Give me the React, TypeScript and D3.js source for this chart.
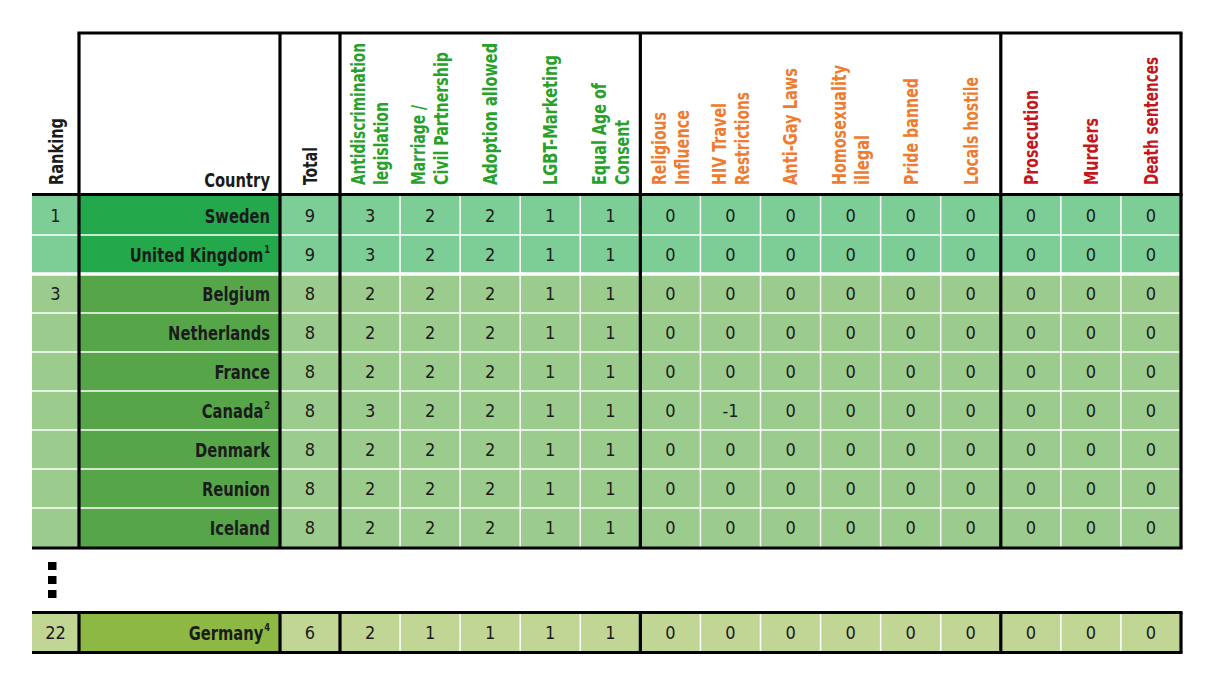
import React from 'react';
import * as d3 from 'd3';

// ---- data ----
const COUNTRIES = ['Sweden', 'United Kingdom', 'Belgium', 'Netherlands', 'France', 'Canada', 'Denmark', 'Reunion', 'Iceland'];
const RANKS = ['1', '', '3', '', '', '', '', '', ''];
const FOOTNOTES = ['', '1', '', '', '', '2', '', '', ''];
const TIERS = [0, 0, 1, 1, 1, 1, 1, 1, 1];
const TOTALS = [9, 9, 8, 8, 8, 8, 8, 8, 8];

const ANTIDISCRIMINATION = [3, 3, 2, 2, 2, 3, 2, 2, 2];
const MARRIAGE = [2, 2, 2, 2, 2, 2, 2, 2, 2];
const ADOPTION = [2, 2, 2, 2, 2, 2, 2, 2, 2];
const LGBT_MARKETING = [1, 1, 1, 1, 1, 1, 1, 1, 1];
const EQUAL_AGE = [1, 1, 1, 1, 1, 1, 1, 1, 1];
const RELIGIOUS = [0, 0, 0, 0, 0, 0, 0, 0, 0];
const HIV_TRAVEL = [0, 0, 0, 0, 0, -1, 0, 0, 0];
const ANTI_GAY_LAWS = [0, 0, 0, 0, 0, 0, 0, 0, 0];
const HOMO_ILLEGAL = [0, 0, 0, 0, 0, 0, 0, 0, 0];
const PRIDE_BANNED = [0, 0, 0, 0, 0, 0, 0, 0, 0];
const LOCALS_HOSTILE = [0, 0, 0, 0, 0, 0, 0, 0, 0];
const PROSECUTION = [0, 0, 0, 0, 0, 0, 0, 0, 0];
const MURDERS = [0, 0, 0, 0, 0, 0, 0, 0, 0];
const DEATH_SENTENCES = [0, 0, 0, 0, 0, 0, 0, 0, 0];

const GERMANY = { country: 'Germany', rank: '22', footnote: '4', total: 6, tier: 2 };
const GERMANY_VALUES = [2, 1, 1, 1, 1, 0, 0, 0, 0, 0, 0, 0, 0, 0];

const COLUMNS = [
  { key: 'anti', lines: ['Antidiscrimination', 'legislation'], group: 'pos', values: ANTIDISCRIMINATION },
  { key: 'marr', lines: ['Marriage /', 'Civil Partnership'], group: 'pos', values: MARRIAGE },
  { key: 'adop', lines: ['Adoption allowed'], group: 'pos', values: ADOPTION },
  { key: 'lgbt', lines: ['LGBT-Marketing'], group: 'pos', values: LGBT_MARKETING },
  { key: 'age', lines: ['Equal Age of', 'Consent'], group: 'pos', values: EQUAL_AGE },
  { key: 'rel', lines: ['Religious', 'Influence'], group: 'mid', values: RELIGIOUS },
  { key: 'hiv', lines: ['HIV Travel', 'Restrictions'], group: 'mid', values: HIV_TRAVEL },
  { key: 'agl', lines: ['Anti-Gay Laws'], group: 'mid', values: ANTI_GAY_LAWS },
  { key: 'homo', lines: ['Homosexuality', 'illegal'], group: 'mid', values: HOMO_ILLEGAL },
  { key: 'pride', lines: ['Pride banned'], group: 'mid', values: PRIDE_BANNED },
  { key: 'loc', lines: ['Locals hostile'], group: 'mid', values: LOCALS_HOSTILE },
  { key: 'pros', lines: ['Prosecution'], group: 'neg', values: PROSECUTION },
  { key: 'murd', lines: ['Murders'], group: 'neg', values: MURDERS },
  { key: 'death', lines: ['Death sentences'], group: 'neg', values: DEATH_SENTENCES },
];

// ---- styling ----
const FONT = "'Liberation Sans Narrow', 'DejaVu Sans Condensed', 'Roboto', sans-serif";
const GROUP_COLOR: Record<string, string> = { pos: '#27a12a', mid: '#f07b2f', neg: '#c4161c' };
const LIGHT = ['#7dce96', '#9ccb8e', '#c1d694'];
const DARK = ['#23a84b', '#56a548', '#8db843'];
const INK = '#1b1b1b';
const SQUEEZE = 0.84; // horizontal condensing for the bold country labels

// rendered length of each rotated header line
const HEADER_FIT: Record<string, number> = {
  Ranking: 67, Total: 38,
  Antidiscrimination: 142, legislation: 83, 'Marriage /': 80, 'Civil Partnership': 133,
  'Adoption allowed': 142, 'LGBT-Marketing': 130, 'Equal Age of': 102, Consent: 65,
  Religious: 73, Influence: 75, 'HIV Travel': 82, Restrictions: 93, 'Anti-Gay Laws': 117,
  Homosexuality: 120, illegal: 50, 'Pride banned': 107, 'Locals hostile': 108,
  Prosecution: 95, Murders: 67, 'Death sentences': 128,
};

const W = 1214;
const H = 682;
const LEFT = 32;
const RANK_R = 79;
const COUNTRY_R = 280;
const TOTAL_R = 340;
const RIGHT = 1181;
const TOP = 33;
const HEAD_BOTTOM = 194.5;
const HEAD_BASE = 185;
const NAME_X = 270;

export default function App() {
  const x = d3.scaleBand<string>().domain(COLUMNS.map(c => c.key)).range([TOTAL_R, RIGHT]);
  const y = d3.scaleBand<string>().domain(COUNTRIES).range([196, 547]);
  const rowH = y.bandwidth();
  const tableBottom = (y(COUNTRIES[COUNTRIES.length - 1]) as number) + rowH + 1;
  const gTop = 612.5;
  const gY = gTop + 1;

  const headLine = (text: string, cx: number, color: string, key: string) => (
    <text
      key={key}
      transform={`translate(${cx},${HEAD_BASE}) rotate(-90)`}
      dy="0.36em"
      fill={color}
      fontWeight="bold"
      fontSize={19}
      textLength={HEADER_FIT[text]}
      lengthAdjust="spacingAndGlyphs"
    >
      {text}
    </text>
  );

  const groupEdges = [RANK_R, COUNTRY_R, TOTAL_R];
  COLUMNS.forEach((c, i) => {
    const next = COLUMNS[i + 1];
    if (next && next.group !== c.group) groupEdges.push(x(next.key) as number);
  });
  groupEdges.push(RIGHT);

  const innerEdges: number[] = [];
  COLUMNS.forEach((c, i) => {
    const next = COLUMNS[i + 1];
    if (next && next.group === c.group) innerEdges.push(x(next.key) as number);
  });

  const renderRow = (
    k: string, top: number, h: number, tier: number, rank: string, country: string,
    foot: string, total: number, values: number[]
  ) => {
    const cy = top + h / 2;
    return (
      <g key={k}>
        <rect x={LEFT} y={top} width={RIGHT - LEFT} height={h} fill={LIGHT[tier]} />
        <rect x={RANK_R} y={top} width={COUNTRY_R - RANK_R} height={h} fill={DARK[tier]} />
        <text x={(LEFT + RANK_R) / 2} y={cy} dy="0.36em" textAnchor="middle" fontSize={18} fill={INK}>{rank}</text>
        <g transform={`translate(${NAME_X},${cy}) scale(${SQUEEZE},1)`}>
          <text x={0} y={0} dy="0.36em" textAnchor="end" fontSize={19.5} fontWeight="bold" fill={INK}>
            {country}
            {foot && <tspan fontSize={11} dy="-0.8em" dx="1">{foot}</tspan>}
          </text>
        </g>
        <text x={(COUNTRY_R + TOTAL_R) / 2} y={cy} dy="0.36em" textAnchor="middle" fontSize={18} fill={INK}>{total}</text>
        {COLUMNS.map((c, j) => (
          <text key={c.key} x={(x(c.key) as number) + x.bandwidth() / 2} y={cy} dy="0.36em"
            textAnchor="middle" fontSize={18} fill={INK}>{values[j]}</text>
        ))}
      </g>
    );
  };

  return (
    <svg width={W} height={H} style={{ position: 'absolute', left: 0, top: 0, background: '#fff' }}
      fontFamily={FONT}>
      {/* header */}
      {headLine('Ranking', (LEFT + RANK_R) / 2 + 1, INK, 'rank')}
      <g transform={`translate(${NAME_X},187) scale(${SQUEEZE},1)`}>
        <text x={0} y={0} textAnchor="end" fontWeight="bold" fontSize={19.5} fill={INK}>Country</text>
      </g>
      {headLine('Total', (COUNTRY_R + TOTAL_R) / 2, INK, 'total')}
      {COLUMNS.map(c => {
        const cx = (x(c.key) as number) + x.bandwidth() / 2;
        const col = GROUP_COLOR[c.group];
        if (c.lines.length === 1) return headLine(c.lines[0], cx, col, c.key);
        return (
          <g key={c.key}>
            {headLine(c.lines[0], cx - 11.5, col, c.key + '0')}
            {headLine(c.lines[1], cx + 11.5, col, c.key + '1')}
          </g>
        );
      })}

      {/* main rows */}
      {COUNTRIES.map((name, i) =>
        renderRow(name, y(name) as number, rowH, TIERS[i], RANKS[i], name, FOOTNOTES[i], TOTALS[i],
          COLUMNS.map(c => c.values[i]))
      )}
      {/* Germany row */}
      {renderRow('ger', gY, 38, GERMANY.tier, GERMANY.rank, GERMANY.country, GERMANY.footnote,
        GERMANY.total, GERMANY_VALUES)}

      {/* white grid */}
      {COUNTRIES.slice(1).map((name, i) => (
        <line key={'h' + name} x1={LEFT} x2={RIGHT} y1={y(name) as number} y2={y(name) as number}
          stroke="#fff" strokeWidth={TIERS[i] !== TIERS[i + 1] ? 3.5 : 1.5} />
      ))}
      {innerEdges.map(ex => (
        <g key={'v' + ex}>
          <line x1={ex} x2={ex} y1={HEAD_BOTTOM} y2={tableBottom} stroke="#fff" strokeWidth={1.5} />
          <line x1={ex} x2={ex} y1={gTop} y2={gTop + 40} stroke="#fff" strokeWidth={1.5} />
        </g>
      ))}

      {/* black borders */}
      <g stroke="#000" strokeWidth={3.2}>
        <line x1={RANK_R - 1.5} x2={RIGHT + 1.5} y1={TOP} y2={TOP} />
        <line x1={LEFT} x2={RIGHT + 1.5} y1={HEAD_BOTTOM} y2={HEAD_BOTTOM} />
        <line x1={LEFT} x2={RIGHT + 1.5} y1={tableBottom} y2={tableBottom} />
        <line x1={LEFT} x2={RIGHT + 1.5} y1={gTop} y2={gTop} />
        <line x1={LEFT} x2={RIGHT + 1.5} y1={gTop + 40} y2={gTop + 40} />
        {groupEdges.map(ex => (
          <g key={'b' + ex}>
            <line x1={ex} x2={ex} y1={TOP} y2={tableBottom} />
            <line x1={ex} x2={ex} y1={gTop} y2={gTop + 40} />
          </g>
        ))}
      </g>

      {/* ellipsis between blocks */}
      {[0, 1, 2].map(i => (
        <rect key={'dot' + i} x={48} y={tableBottom + 14 + i * 14} width={8.5} height={8} fill="#000" />
      ))}
    </svg>
  );
}
